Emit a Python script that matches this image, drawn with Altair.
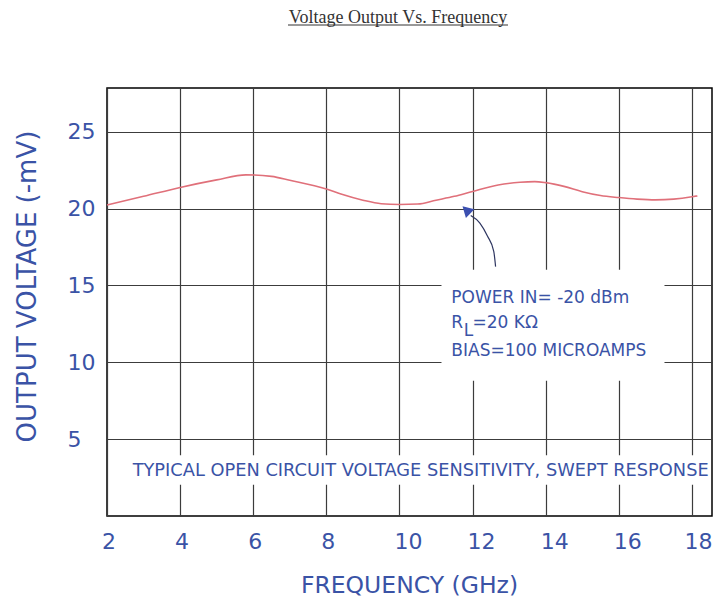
import altair as alt
import pandas as pd

# ---- data ----
freq = [2.0, 3.0, 4.0, 5.0, 5.8, 6.5, 7.0, 8.0, 8.4, 9.0, 9.5, 10.0, 10.5, 11.0,
        11.5, 12.0, 12.7, 13.3, 13.7, 14.0, 14.5, 15.0, 15.5, 16.0, 16.5, 17.0,
        17.5, 18.0, 18.15]
voltage = [20.24, 20.8, 21.38, 21.87, 22.2, 22.1, 21.85, 21.28, 20.95, 20.55,
           20.32, 20.27, 20.3, 20.55, 20.8, 21.12, 21.54, 21.72, 21.76, 21.69,
           21.45, 21.1, 20.85, 20.72, 20.62, 20.57, 20.62, 20.77, 20.83]

x_ticks = [2, 4, 6, 8, 10, 12, 14, 16, 18]
y_ticks = [5, 10, 15, 20, 25]

chart_title = "Voltage Output Vs. Frequency"
x_title = "FREQUENCY (GHz)"
y_title = "OUTPUT VOLTAGE (-mV)"

# annotation (in data units)
note_text = ["POWER IN= -20 dBm", "R", "L", "=20 K\u03a9", "BIAS=100 MICROAMPS"]
note_x = [11.42, 11.42, 11.76, 12.0, 11.42]
note_y = [14.19, 12.55, 12.02, 12.55, 10.75]

caption = ["TYPICAL OPEN CIRCUIT VOLTAGE SENSITIVITY, SWEPT RESPONSE"]
caption_x = [10.58]
caption_y = [2.94]

box_x = [11.15, 2.22]
box_x2 = [17.25, 18.45]
box_y = [16.03, 2.04]
box_y2 = [8.8, 3.95]

arrow_x = [11.95, 12.2, 12.41, 12.58, 12.63]
arrow_y = [19.55, 19.06, 18.2, 17.22, 16.23]
head_x = [11.83]
head_y = [19.92]

BLUE = "#3a53a6"
FONT = "DejaVu Sans"

xs = alt.Scale(domain=[2, 18.55], nice=False, zero=False)
ys = alt.Scale(domain=[0, 27.85], nice=False, zero=False)

x_axis = alt.Axis(values=x_ticks, grid=True, ticks=False, tickSize=0, domain=False,
                  gridColor="#3c3c3c", gridWidth=1.2, gridOpacity=1,
                  labelFont=FONT, labelFontSize=22, labelColor=BLUE,
                  labelAlign="left",
                  labelOffset={"condition": {"test": "datum.value >= 18", "value": -8},
                               "value": -5.5},
                  labelBaseline="middle",
                  labelPadding=25, labelFlush=False, labelOverlap=False,
                  title=x_title, titleFont=FONT, titleFontSize=23.5,
                  titleFontWeight="normal", titleColor=BLUE,
                  titleX=302, titleY=69, titleBaseline="middle", titleAlign="center")
y_axis = alt.Axis(values=y_ticks, grid=True, ticks=False, tickSize=0, domain=False,
                  gridColor="#3c3c3c", gridWidth=1.2, gridOpacity=1,
                  labelFont=FONT, labelFontSize=22, labelColor=BLUE,
                  labelAlign="left", labelBaseline="middle", labelPadding=40,
                  labelFlush=False, labelOverlap=False,
                  title=y_title, titleFont=FONT, titleFontSize=26,
                  titleFontWeight="normal", titleColor=BLUE,
                  titleX=-80, titleY=198, titleAngle=270,
                  titleBaseline="middle", titleAlign="center")

curve_df = pd.DataFrame({"f": freq, "v": voltage})

line = alt.Chart(curve_df).mark_line(color="#e0707a", strokeWidth=1.6,
                                      interpolate="monotone").encode(
    x=alt.X("f:Q", scale=xs, axis=x_axis),
    y=alt.Y("v:Q", scale=ys, axis=y_axis),
)

boxes = alt.Chart(pd.DataFrame({"x": box_x, "x2": box_x2, "y": box_y, "y2": box_y2})).mark_rect(
    color="white").encode(
    x=alt.X("x:Q", scale=xs), x2="x2:Q",
    y=alt.Y("y:Q", scale=ys), y2="y2:Q",
)

arrow = alt.Chart(pd.DataFrame({"x": arrow_x, "y": arrow_y, "o": list(range(len(arrow_x)))})).mark_line(
    color="#2d3560", strokeWidth=1.2, interpolate="monotone").encode(
    x=alt.X("x:Q", scale=xs), y=alt.Y("y:Q", scale=ys), order="o:Q")

head = alt.Chart(pd.DataFrame({"x": head_x, "y": head_y})).mark_point(
    shape="triangle-up", filled=True, size=150, angle=314, color="#3b4fb0", opacity=1).encode(
    x=alt.X("x:Q", scale=xs), y=alt.Y("y:Q", scale=ys))

notes = alt.Chart(pd.DataFrame({"x": note_x, "y": note_y, "t": note_text})).mark_text(
    align="left", baseline="middle", font=FONT, fontSize=17, color=BLUE).encode(
    x=alt.X("x:Q", scale=xs), y=alt.Y("y:Q", scale=ys), text="t:N")

cap = alt.Chart(pd.DataFrame({"x": caption_x, "y": caption_y, "t": caption})).mark_text(
    align="center", baseline="middle", font=FONT, fontSize=17.8, color=BLUE).encode(
    x=alt.X("x:Q", scale=xs), y=alt.Y("y:Q", scale=ys), text="t:N")

title_txt = alt.Chart(pd.DataFrame({"t": [chart_title]})).mark_text(
    align="center", baseline="middle", font="Liberation Serif", fontSize=18,
    color="#333333").encode(x=alt.value(291), y=alt.value(-70.5), text="t:N")

underline = alt.Chart(pd.DataFrame({"t": [chart_title]})).mark_rule(
    color="#333333", strokeWidth=1).encode(
    x=alt.value(181), x2=alt.value(401), y=alt.value(-63))

chart = alt.layer(boxes, line, arrow, head, notes, cap, title_txt, underline).properties(
    width=605, height=428,
    autosize=alt.AutoSizeParams(type="none"),
    padding={"left": 99, "top": 80, "right": 1, "bottom": 81},
    background="white",
).configure_view(stroke="black", strokeWidth=1.5)

chart.save("out.html", embed_options={"renderer": "svg", "actions": False})
